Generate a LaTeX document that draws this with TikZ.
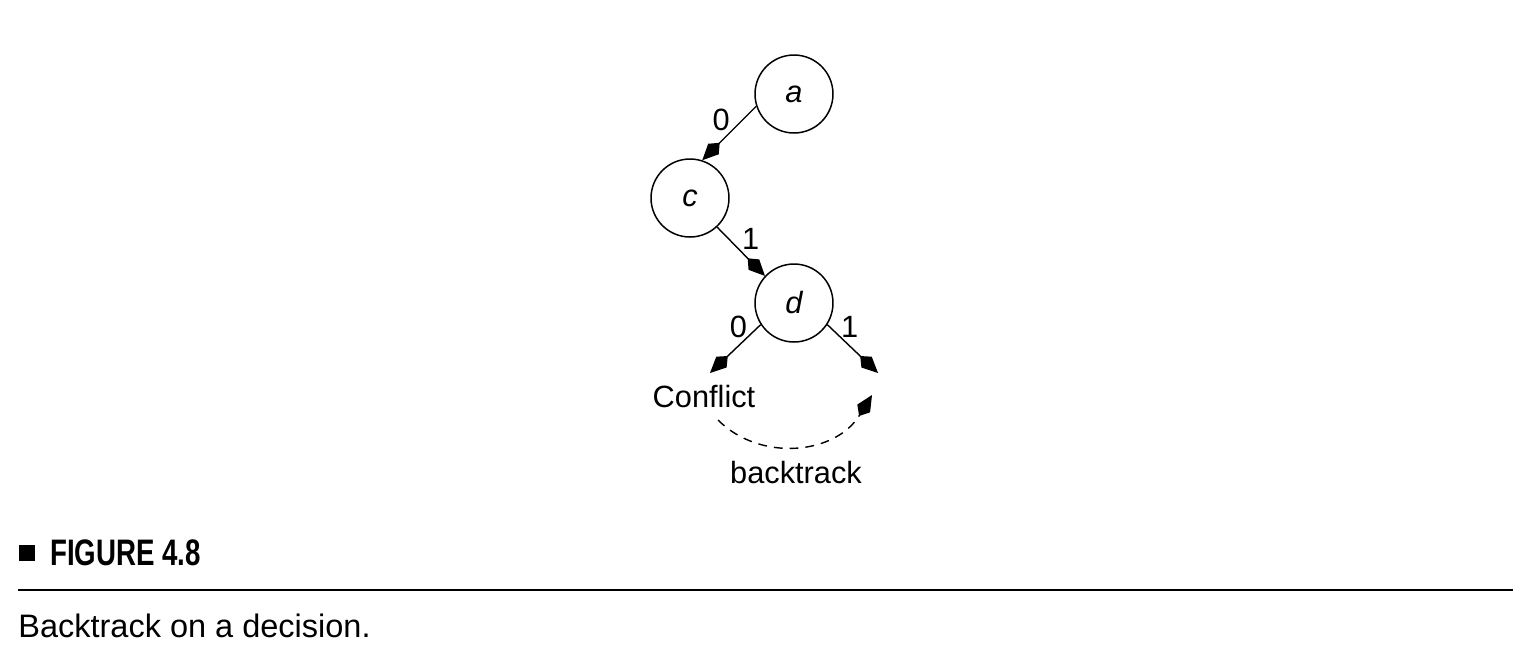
\documentclass[tikz,border=0pt]{standalone}
\usepackage{fontspec}
\setmainfont{Liberation Sans}
\newfontfamily\capfont[FakeStretch=0.75]{Liberation Sans}
\usetikzlibrary{arrows.meta}

\begin{document}
\begin{tikzpicture}[x=0.02cm,y=-0.02cm,
    var/.style={draw,circle,line width=0.85pt,minimum size=1.56cm,inner sep=0pt,
      font=\fontsize{17.5}{20}\selectfont\itshape},
    edge/.style={line width=0.8pt,-{Kite[length=14pt,width=8.5pt,inset=5pt]}},
    lbl/.style={font=\fontsize{17.5}{20}\selectfont,inner sep=2pt}]
    \useasboundingbox (0,0) rectangle (1525,654);

    % Decision nodes
    \node[var] (a) at (794,94) {a};
    \node[var] (c) at (690,198) {c};
    \node[var] (d) at (794,303) {d};

    % Free ends of the last decision
    \coordinate (zl) at (710,373);
    \coordinate (zr) at (878,373);

    % Branches
    \draw[edge] (a.198) -- (c.72) node[lbl,pos=0.25,left=5pt] {0};
    \draw[edge] (c.313) -- (d.137) node[lbl,pos=0.25,right=5pt] {1};
    \draw[edge] (d.213) -- (zl) node[lbl,pos=0.05,left=4pt] {0};
    \draw[edge] (d.327) -- (zr) node[lbl,pos=0.05,right=4pt] {1};

    % Conflict and backtrack
    \node[lbl,anchor=base,inner sep=0pt] (conf) at (704,407) {Conflict};
    \coordinate (bt0) at (718,420);
    \coordinate (bt1) at (872,395);
    \draw[edge,dash pattern=on 5pt off 4pt] (bt0) .. controls (760,462) and (835,455) .. (bt1);
    \node[lbl,anchor=base,inner sep=0pt] (bt) at (796,483) {backtrack};

    % Caption
    \fill (19,545) rectangle (35,561);
    \node[anchor=base west,inner sep=0pt,font=\capfont\bfseries\fontsize{21}{24}\selectfont] (fig) at (50,565) {FIGURE 4.8};
    \draw[line width=1pt] (18,590) -- (1513,590);
    \node[anchor=base west,inner sep=0pt,font=\fontsize{18.5}{22}\selectfont] (cap) at (18,637) {Backtrack on a decision.};
\end{tikzpicture}
\end{document}
